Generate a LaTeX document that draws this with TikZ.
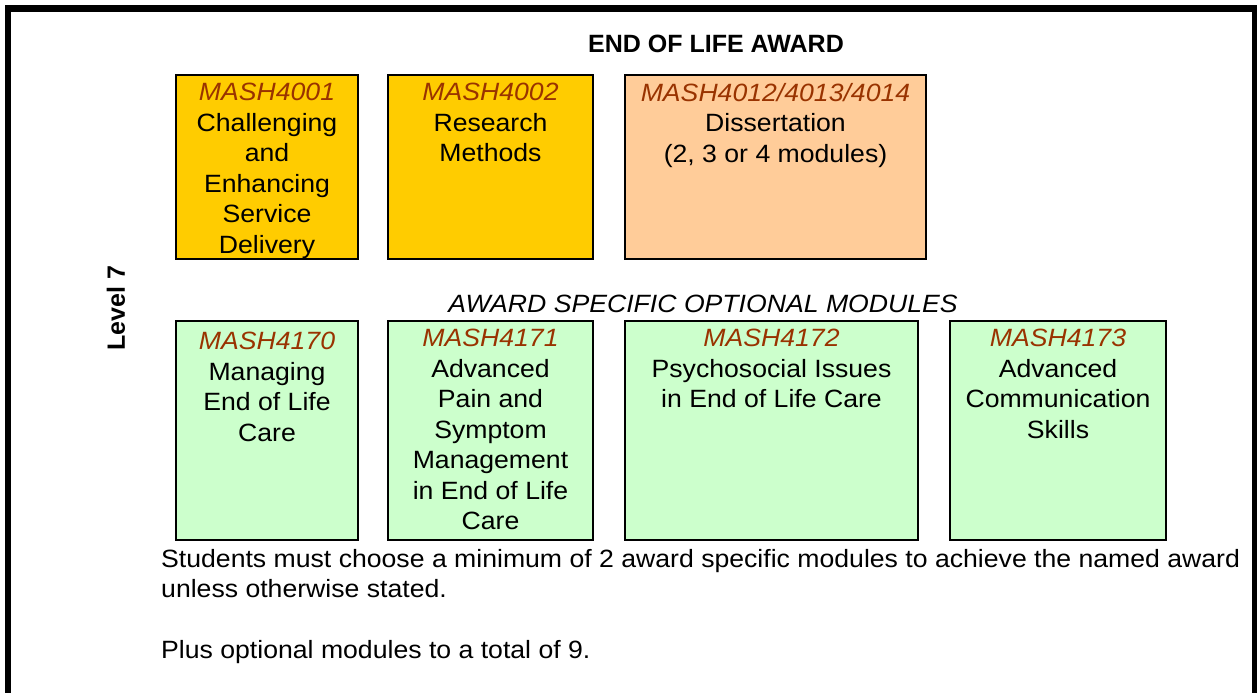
\documentclass[tikz,border=0pt]{standalone}
\usepackage{fontspec}
\setmainfont{Liberation Sans}[FakeStretch=1.065]
\newfontfamily\plainbold{Liberation Sans}
\definecolor{gold}{HTML}{FFCC00}
\definecolor{peach}{HTML}{FFCC99}
\definecolor{mint}{HTML}{CCFFCC}
\definecolor{code}{HTML}{993300}
\newcommand{\mcode}[1]{\textcolor{code}{\itshape #1}}
\tikzset{
  modbox/.style={draw=black, line width=1.1pt, outer sep=0pt, inner sep=0pt, anchor=north west},
  modtxt/.style={anchor=north, align=center, inner sep=0pt, font=\fontsize{25}{30.5}\selectfont},
  plain/.style={inner sep=0pt, font=\fontsize{25}{30.5}\selectfont},
}
\begin{document}
\begin{tikzpicture}[x=1pt,y=-1pt]
\useasboundingbox (0,0) rectangle (1257,693);
% frame
\fill[black] (5,5) rectangle (1257,12);
\fill[black] (5,5) rectangle (11,693);
\fill[black] (1252,5) rectangle (1257,693);
% titles
\node[plain, font=\plainbold\fontsize{25}{30.5}\selectfont\bfseries] (title) at (716,44) {END OF LIFE AWARD};
\node[plain, font=\fontsize{25}{30.5}\selectfont\itshape] (opt) at (703,304) {AWARD SPECIFIC OPTIONAL MODULES};
\node[plain, font=\plainbold\fontsize{25}{30.5}\selectfont\bfseries, rotate=90] (lvl) at (116,308) {Level 7};
% top row
\node[modbox, fill=gold, minimum width=182, minimum height=184] (b1) at (176,75) {};
\node[modbox, fill=gold, minimum width=205, minimum height=184] (b2) at (388,75) {};
\node[modbox, fill=peach, minimum width=301, minimum height=184] (b3) at (625,75) {};
\node[modtxt] (t1) at ([yshift=-8pt]b1.north) {\mcode{MASH4001}\\Challenging\\and\\Enhancing\\Service\\Delivery};
\node[modtxt] (t2) at ([yshift=-8pt]b2.north) {\mcode{MASH4002}\\Research\\Methods};
\node[modtxt] (t3) at ([yshift=-8pt]b3.north) {\mcode{MASH4012/4013/4014}\\Dissertation\\(2, 3 or 4 modules)};
% bottom row
\node[modbox, fill=mint, minimum width=182, minimum height=219] (b4) at (176,321) {};
\node[modbox, fill=mint, minimum width=205, minimum height=219] (b5) at (388,321) {};
\node[modbox, fill=mint, minimum width=293, minimum height=219] (b6) at (625,321) {};
\node[modbox, fill=mint, minimum width=216, minimum height=219] (b7) at (950,321) {};
\draw[line width=2pt] (b6.north west) -- (b6.north east);
\draw[line width=2pt] (b6.south west) -- (b6.south east);
\node[modtxt] (t4) at ([yshift=-11pt]b4.north) {\mcode{MASH4170}\\Managing\\End of Life\\Care};
\node[modtxt] (t5) at ([yshift=-8pt]b5.north) {\mcode{MASH4171}\\Advanced\\Pain and\\Symptom\\Management\\in End of Life\\Care};
\node[modtxt] (t6) at ([yshift=-8pt]b6.north) {\mcode{MASH4172}\\Psychosocial Issues\\in End of Life Care};
\node[modtxt] (t7) at ([yshift=-8pt]b7.north) {\mcode{MASH4173}\\Advanced\\Communication\\Skills};
% notes
\node[plain, anchor=base west] (n1) at (161,567) {Students must choose a minimum of 2 award specific modules to achieve the named award};
\node[plain, anchor=base west] (n2) at (161,597) {unless otherwise stated.};
\node[plain, anchor=base west] (n3) at (161,658) {Plus optional modules to a total of 9.};
\end{tikzpicture}
\end{document}
